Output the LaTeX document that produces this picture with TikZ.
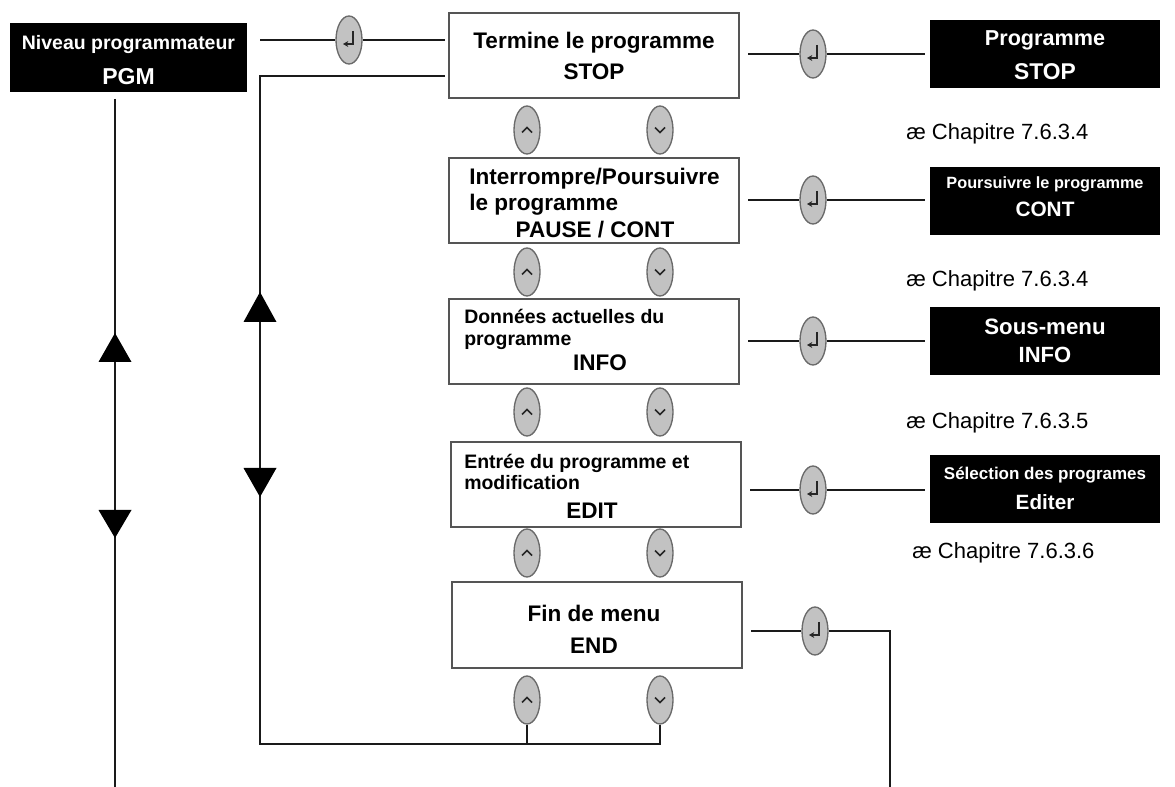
\documentclass[tikz,border=0pt]{standalone}
\usepackage{fontspec}
\setmainfont{Liberation Sans}
\usetikzlibrary{shapes.geometric,arrows.meta,calc}
\definecolor{btnfill}{HTML}{C2C2C2}
\definecolor{btnline}{HTML}{6A6A6A}
\definecolor{boxline}{HTML}{555555}
\definecolor{wirec}{HTML}{1A1A1A}
\tikzset{
  wire/.style={draw=wirec, line width=2.2pt},
  wbox/.style={draw=boxline, fill=white, line width=1.5pt, minimum width=217.5pt, minimum height=63.75pt, inner sep=0pt},
  bbox/.style={fill=black, minimum width=172.5pt, minimum height=51pt, inner sep=0pt},
  pgmbox/.style={fill=black, minimum width=177.75pt, minimum height=51.75pt, inner sep=0pt},
  btn/.style={ellipse, draw=btnline, fill=btnfill, line width=1pt, minimum width=19.5pt, minimum height=36pt, inner sep=0pt},
  sym/.style={draw=black!85, line width=1.2pt},
  ft/.style 2 args={font=\bfseries\fontsize{#1}{#1}\selectfont, text height=#2, text depth=0pt, inner sep=0pt},
  wt/.style={text=white},
  chap/.style={font=\fontsize{16.5pt}{16.5pt}\selectfont, text height=11.8pt, text depth=0pt, inner sep=0pt, anchor=west},
  tri/.style={fill=black},
  pics/upkey/.style={code={\node[btn] (-e) {}; \draw[sym] (-5,2.5) -- (0,-2.5) -- (5,2.5);}},
  pics/downkey/.style={code={\node[btn] (-e) {}; \draw[sym] (-5,-2.5) -- (0,2.5) -- (5,-2.5);}},
  pics/enterkey/.style={code={\node[btn] (-e) {}; \draw[sym,-{Stealth[length=4pt,width=4.5pt]}] (4,-9) -- (4,4) -- (-6,4);}}
}
\begin{document}
\begin{tikzpicture}[x=0.75pt,y=-0.75pt]
\useasboundingbox (0,0) rectangle (1175,787);

% ---- boxes
\node[pgmbox] (pgm) at (128.5,57.5) {};
\node[wbox] (stop) at (594,55.5) {};
\node[wbox] (pause) at (594,201) {};
\node[wbox] (info) at (594,342) {};
\node[wbox] (edit) at (596,485) {};
\node[wbox] (endb) at (597,625) {};
\node[bbox] (pstop) at (1045,54) {};
\node[bbox] (pcont) at (1045,201) {};
\node[bbox] (pinfo) at (1045,341) {};
\node[bbox] (pedit) at (1045,489) {};

% ---- keys
\pic (k0) at (349,40) {enterkey};
\pic (k1) at (813,54) {enterkey};
\pic (k2) at (813,200) {enterkey};
\pic (k3) at (813,341) {enterkey};
\pic (k4) at (813,490) {enterkey};
\pic (k5) at (815,631) {enterkey};
\pic (u1) at (527,130) {upkey};
\pic (d1) at (660,130) {downkey};
\pic (u2) at (527,272) {upkey};
\pic (d2) at (660,272) {downkey};
\pic (u3) at (527,412) {upkey};
\pic (d3) at (660,412) {downkey};
\pic (u4) at (527,553) {upkey};
\pic (d4) at (660,553) {downkey};
\pic (u5) at (527,700) {upkey};
\pic (d5) at (660,700) {downkey};

% ---- free ends
\coordinate (c1) at (260,40);
\coordinate (c2) at (260,76);
\coordinate (c3) at (260,744);
\coordinate (c4) at (890,787);
\coordinate (c6) at (115,99);
\coordinate (c7) at (115,787);

% ---- connectors
\draw[wire] (c1) -- (k0-e);
\draw[wire] (k0-e) -- ($(k0-e -| stop.west)+(-3,0)$);
\draw[wire] ($(c2 -| stop.west)+(-3,0)$) -- (c2) -- (c3) -| (d5-e);
\draw[wire] (u5-e) -- (u5-e |- c3);
\draw[wire] (c6) -- (c7);
\draw[wire] ($(k1-e -| stop.east)+(8,0)$) -- (k1-e);
\draw[wire] (k1-e) -- ($(k1-e -| pstop.west)+(-5,0)$);
\draw[wire] ($(k2-e -| pause.east)+(8,0)$) -- (k2-e);
\draw[wire] (k2-e) -- ($(k2-e -| pcont.west)+(-5,0)$);
\draw[wire] ($(k3-e -| info.east)+(8,0)$) -- (k3-e);
\draw[wire] (k3-e) -- ($(k3-e -| pinfo.west)+(-5,0)$);
\draw[wire] ($(k4-e -| edit.east)+(8,0)$) -- (k4-e);
\draw[wire] (k4-e) -- ($(k4-e -| pedit.west)+(-5,0)$);
\draw[wire] ($(k5-e -| endb.east)+(8,0)$) -- (k5-e);
\draw[wire] (k5-e) -| (c4);

% ---- arrow triangles
\fill[tri] (115,333) -- (131.5,362) -- (98.5,362) -- cycle;
\fill[tri] (115,538) -- (131.5,510) -- (98.5,510) -- cycle;
\fill[tri] (260,292) -- (276.5,322) -- (243.5,322) -- cycle;
\fill[tri] (260,497) -- (276.5,468) -- (243.5,468) -- cycle;

% ---- texts in white boxes
\node[ft={16.9pt}{12.1pt}] (t1a) at (594,40) {Termine le programme};
\node[ft={16.9pt}{12.1pt}] (t1b) at (594,71) {STOP};
\node[ft={16.9pt}{12.1pt},anchor=west] (t2a) at (469,176) {Interrompre/Poursuivre};
\node[ft={16.9pt}{12.1pt},anchor=west] (t2b) at (469,202) {le programme};
\node[ft={16.9pt}{12.1pt}] (t2c) at (595,229) {PAUSE / CONT};
\node[ft={14.6pt}{10.45pt},anchor=west] (t3a) at (464,317) {Données actuelles du};
\node[ft={14.6pt}{10.45pt},anchor=west] (t3b) at (464,339) {programme};
\node[ft={16.9pt}{12.1pt}] (t3c) at (600,362) {INFO};
\node[ft={14.6pt}{10.45pt},anchor=west] (t4a) at (464,462) {Entrée du programme et};
\node[ft={14.6pt}{10.45pt},anchor=west] (t4b) at (464,483) {modification};
\node[ft={16.9pt}{12.1pt}] (t4c) at (592,510) {EDIT};
\node[ft={16.9pt}{12.1pt}] (t5a) at (594,613) {Fin de menu};
\node[ft={16.9pt}{12.1pt}] (t5b) at (594,645) {END};

% ---- texts in black boxes
\node[ft={14.6pt}{10.45pt},wt] (p0a) at (128.5,43) {Niveau programmateur};
\node[ft={17.25pt}{12.35pt},wt] (p0b) at (128.5,76) {PGM};
\node[ft={16.2pt}{11.6pt},wt] (p1a) at (1045,38) {Programme};
\node[ft={17.1pt}{12.25pt},wt] (p1b) at (1045,71) {STOP};
\node[ft={12.2pt}{8.75pt},wt] (p2a) at (1045,183) {Poursuivre le programme};
\node[ft={15.6pt}{11.2pt},wt] (p2b) at (1045,209) {CONT};
\node[ft={16.7pt}{11.95pt},wt] (p3a) at (1045,327) {Sous-menu};
\node[ft={16.5pt}{11.8pt},wt] (p3b) at (1045,355) {INFO};
\node[ft={12.75pt}{9.1pt},wt] (p4a) at (1045,473) {Sélection des programes};
\node[ft={15.5pt}{11.1pt},wt] (p4b) at (1045,502) {Editer};

% ---- chapter references
\node[chap] (ch1) at (906,132) {æ Chapitre 7.6.3.4};
\node[chap] (ch2) at (906,279) {æ Chapitre 7.6.3.4};
\node[chap] (ch3) at (906,421) {æ Chapitre 7.6.3.5};
\node[chap] (ch4) at (912,551) {æ Chapitre 7.6.3.6};
\end{tikzpicture}
\end{document}
